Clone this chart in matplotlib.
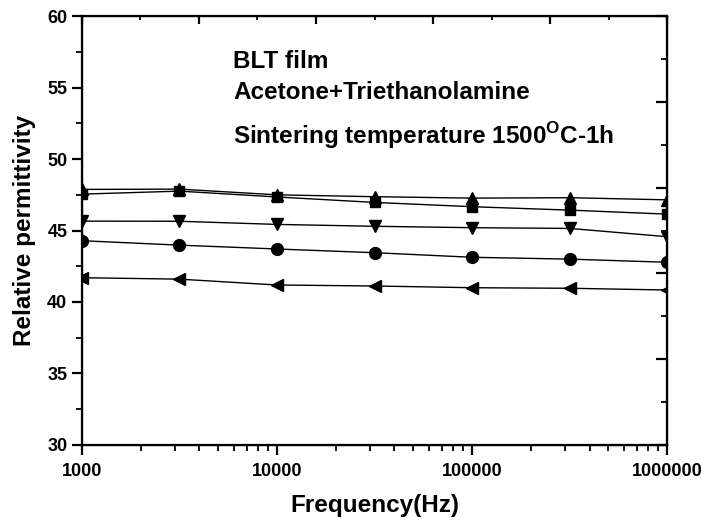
import matplotlib
matplotlib.use("Agg")
from matplotlib import pyplot as plt
from matplotlib.ticker import FixedLocator, NullFormatter, LogLocator

plt.rcParams['font.family'] = ['Liberation Sans', 'DejaVu Sans']
plt.rcParams['font.weight'] = 'bold'
plt.rcParams['mathtext.fontset'] = 'custom'
plt.rcParams['mathtext.rm'] = 'Liberation Sans:bold'
plt.rcParams['mathtext.bf'] = 'Liberation Sans:bold'

# frequency points (Hz)
freq = [1e3, 3162, 1e4, 31623, 1e5, 316228, 1e6]

# relative permittivity, one list per curve
eps_up = [47.88, 47.9, 47.5, 47.37, 47.27, 47.3, 47.15]
eps_square = [47.55, 47.76, 47.35, 46.97, 46.67, 46.43, 46.15]
eps_down = [45.66, 45.65, 45.43, 45.3, 45.2, 45.15, 44.57]
eps_circle = [44.29, 43.98, 43.71, 43.45, 43.13, 43.0, 42.78]
eps_left = [41.7, 41.6, 41.19, 41.12, 41.0, 40.96, 40.84]

xticks = [1e3, 1e4, 1e5, 1e6]
xticklabels = ['1000', '10000', '100000', '1000000']
yticks = [30, 35, 40, 45, 50, 55, 60]

fig = plt.figure(figsize=(7.06, 5.24), dpi=100)
ax = fig.add_axes([0.116, 0.151, 0.829, 0.818])

ms = 8.5
ax.plot(freq, eps_up, '-^', color='black', lw=1, ms=ms)
ax.plot(freq, eps_square, '-s', color='black', lw=1, ms=ms - 1.5)
ax.plot(freq, eps_down, '-v', color='black', lw=1, ms=ms)
ax.plot(freq, eps_circle, '-o', color='black', lw=1, ms=ms)
ax.plot(freq, eps_left, '-<', color='black', lw=1, ms=ms)

ax.set_xscale('log')
ax.set_xlim(1e3, 1e6)
ax.set_ylim(30, 60)
ax.set_xticks(xticks)
ax.set_xticklabels(xticklabels)
ax.xaxis.set_minor_locator(LogLocator(base=10, subs=range(2, 10)))
ax.xaxis.set_minor_formatter(NullFormatter())
ax.set_yticks(yticks)
ax.yaxis.set_minor_locator(FixedLocator([32.5, 37.5, 42.5, 47.5, 52.5, 57.5]))

for s in ax.spines.values():
    s.set_linewidth(1.6)

ax.tick_params(which='major', direction='out', length=7, width=1.6, labelsize=13)
ax.tick_params(which='minor', direction='out', length=4, width=1.3)
ax.tick_params(axis='x', pad=6)

ax.set_xlabel('Frequency(Hz)', fontsize=17.5, fontweight='bold', labelpad=10)
ax.set_ylabel('Relative permittivity', fontsize=17.5, fontweight='bold', labelpad=8)

# top axis: plain inward ticks
top = ax.twiny()
top.set_xlim(0, 10)
top.xaxis.set_major_locator(FixedLocator([0, 2, 4, 6, 8, 10]))
top.xaxis.set_minor_locator(FixedLocator([1, 3, 5, 7, 9]))
top.tick_params(which='major', direction='in', length=6, width=1.6, labeltop=False)
top.tick_params(which='minor', direction='in', length=3, width=1.3)
top.tick_params(axis='y', left=False, right=False, labelleft=False)

# right axis: inward ticks every 3
right = ax.twinx()
right.set_ylim(30, 60)
right.yaxis.set_major_locator(FixedLocator([30, 36, 42, 48, 54, 60]))
right.yaxis.set_minor_locator(FixedLocator([33, 39, 45, 51, 57]))
right.tick_params(which='major', direction='in', length=8, width=1.6, labelright=False)
right.tick_params(which='minor', direction='in', length=4, width=1.3)

ax.text(0.258, 0.879, 'BLT film', transform=ax.transAxes, fontsize=17.5, fontweight='bold')
ax.text(0.258, 0.807, 'Acetone+Triethanolamine', transform=ax.transAxes, fontsize=17.5, fontweight='bold')
ax.text(0.258, 0.702, 'Sintering temperature 1500$^{\\mathrm{O}}$C-1h', transform=ax.transAxes,
        fontsize=17.5, fontweight='bold')

plt.savefig('out.png', dpi=100)
